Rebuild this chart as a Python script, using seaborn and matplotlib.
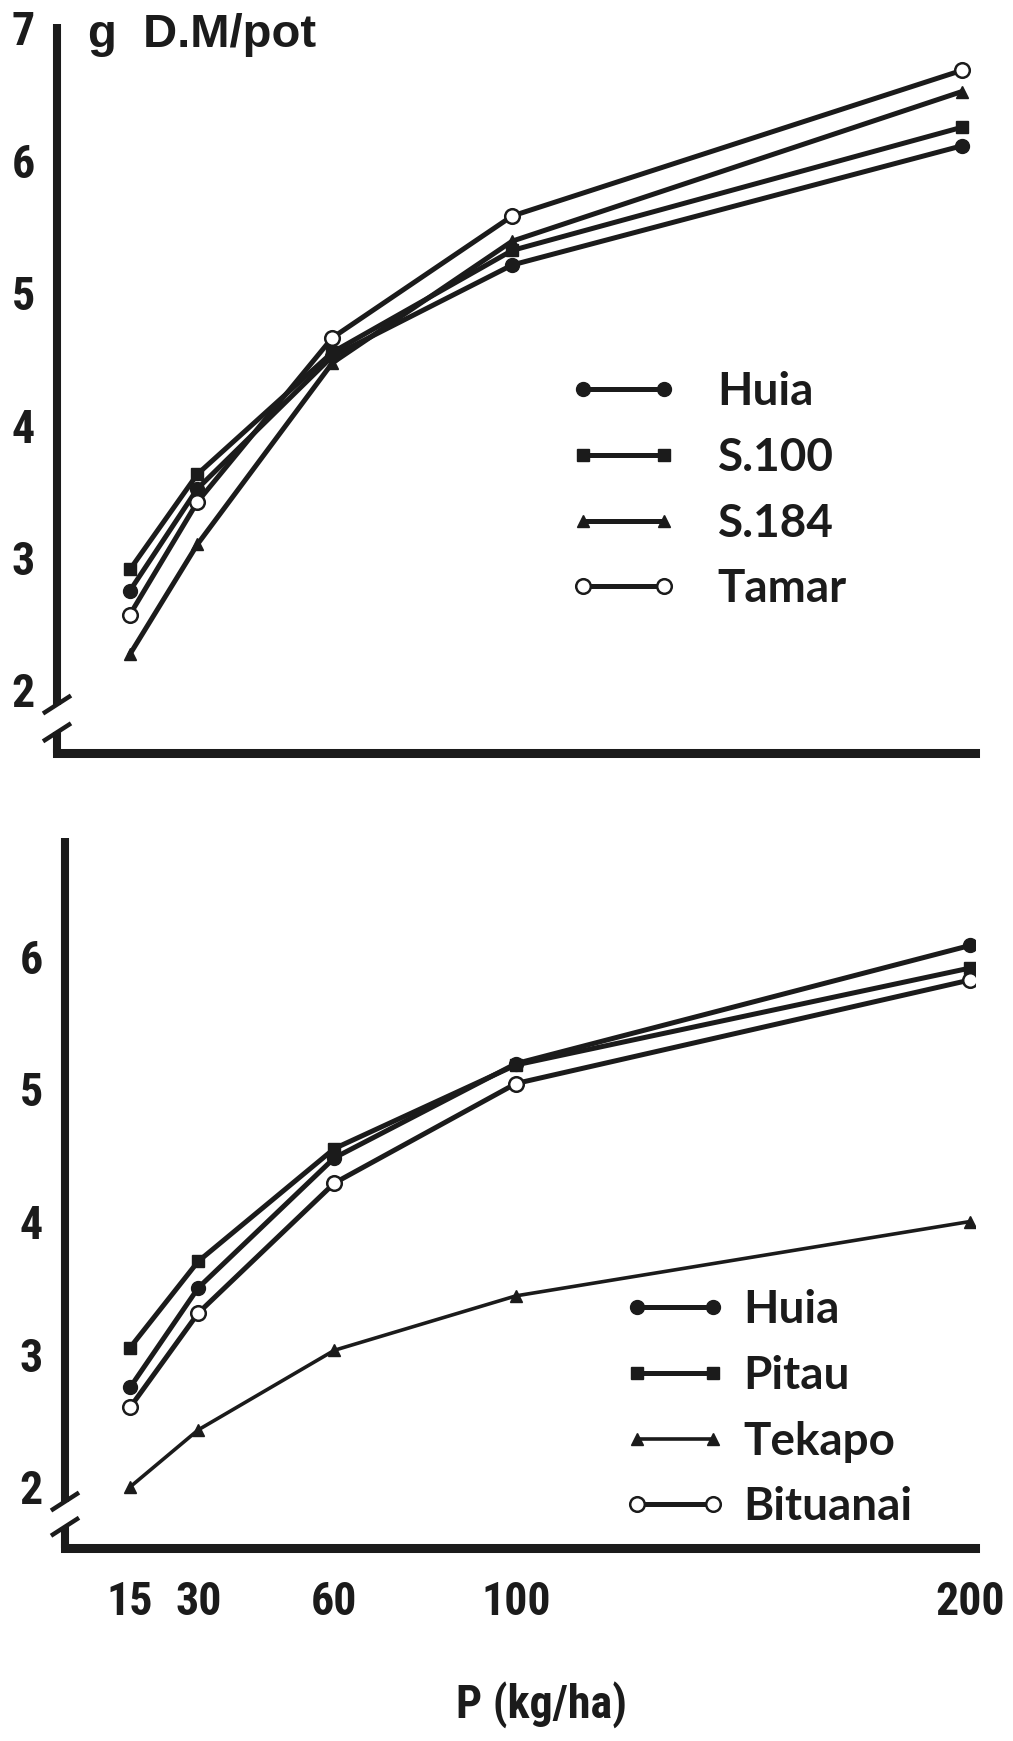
import matplotlib
matplotlib.use("Agg")
import matplotlib.pyplot as plt
import seaborn as sns
from matplotlib import font_manager as fm

# P application rates (kg/ha)
p_rates = [15, 30, 60, 100, 200]

# Upper panel: dry matter yield (g D.M/pot)
huia_top = [2.75, 3.52, 4.52, 5.21, 6.11]
s100 = [2.91, 3.63, 4.55, 5.32, 6.25]
s184 = [2.27, 3.10, 4.47, 5.39, 6.52]
tamar = [2.57, 3.42, 4.66, 5.58, 6.68]

# Lower panel
huia_bot = [2.75, 3.50, 4.48, 5.19, 6.08]
pitau = [3.05, 3.70, 4.55, 5.18, 5.91]
tekapo = [2.00, 2.43, 3.03, 3.44, 4.00]
bituanai = [2.60, 3.31, 4.29, 5.04, 5.82]

top_names = ["Huia", "S.100", "S.184", "Tamar"]
bot_names = ["Huia", "Pitau", "Tekapo", "Bituanai"]
y_ticks_top = [2, 3, 4, 5, 6, 7]
y_ticks_bot = [2, 3, 4, 5, 6]
x_tick_labels = ["15", "30", "60", "100", "200"]

INK = "#1b1b1b"

sns.set_style("white")
avail = {f.name for f in fm.fontManager.ttflist}
if "Liberation Sans Narrow" in avail:
    tick_font = fm.FontProperties(family="Liberation Sans Narrow", weight="bold", size=33)
elif "Roboto Condensed" in avail:
    tick_font = fm.FontProperties(family="Roboto Condensed", weight="bold", size=33)
else:
    tick_font = fm.FontProperties(family="DejaVu Sans", stretch="condensed", weight="bold", size=32)
legend_font = fm.FontProperties(family="Lato", weight="bold", size=33)
title_font = fm.FontProperties(family="Liberation Sans", weight="bold", size=34)

W, H = 1013, 1741
fig = plt.figure(figsize=(W / 100, H / 100), dpi=100, facecolor="white")


def px_axes(left, top, right, bottom):
    return fig.add_axes([left / W, 1 - bottom / H, (right - left) / W, (bottom - top) / H])


ax1 = px_axes(57, 24, 975, 753)
ax2 = px_axes(65, 838, 975, 1548)

styles = {
    "circle": dict(marker="o", markersize=10, markerfacecolor=INK, markeredgewidth=1.0),
    "square": dict(marker="s", markersize=8.5, markerfacecolor=INK, markeredgewidth=1.0),
    "triangle": dict(marker="^", markersize=9, markerfacecolor=INK, markeredgewidth=1.0),
    "open": dict(marker="o", markersize=10.5, markerfacecolor="white", markeredgewidth=1.8),
}


def draw_series(ax, name, values, style, lw=3.6):
    sns.lineplot(x=p_rates, y=values, ax=ax, color=INK, linewidth=lw,
                 markeredgecolor=INK, label=name, legend=False, **styles[style])
    line = ax.lines[-1]
    st = styles[style]
    line.set_markerfacecolor(st["markerfacecolor"])
    line.set_markeredgecolor(INK)
    line.set_markeredgewidth(st["markeredgewidth"])
    line.set_solid_joinstyle("round")
    return line


h_top = [
    draw_series(ax1, "Huia", huia_top, "circle"),
    draw_series(ax1, "S.100", s100, "square"),
    draw_series(ax1, "S.184", s184, "triangle"),
    draw_series(ax1, "Tamar", tamar, "open"),
]
h_bot = [
    draw_series(ax2, "Huia", huia_bot, "circle"),
    draw_series(ax2, "Pitau", pitau, "square"),
    draw_series(ax2, "Tekapo", tekapo, "triangle", lw=2.6),
    draw_series(ax2, "Bituanai", bituanai, "open"),
]


def style_axes(ax, xlim, ylim, yticks, break_hi, break_lo, show_xlabels):
    ax.set_xlim(*xlim)
    ax.set_ylim(*ylim)
    ax.set_facecolor("white")
    for s in ["top", "right"]:
        ax.spines[s].set_visible(False)
    ax.spines["left"].set_linewidth(5.8)
    ax.spines["bottom"].set_linewidth(6.5)
    ax.spines["left"].set_color(INK)
    ax.spines["bottom"].set_color(INK)
    ax.spines["left"].set_bounds(break_hi, ylim[1])
    ax.spines["left"].set_capstyle("butt")
    ax.set_xticks(p_rates)
    ax.set_yticks(yticks)
    ax.tick_params(axis="both", which="major", direction="out", color=INK,
                   width=8.5, length=10)
    ax.tick_params(axis="y", pad=6)
    ax.tick_params(axis="x", pad=13)
    ax.set_yticklabels([str(t) for t in yticks], fontproperties=tick_font, color=INK)
    if show_xlabels:
        ax.set_xticklabels(x_tick_labels, fontproperties=tick_font, color=INK)
    else:
        ax.set_xticklabels([])
    ax.set_xlabel("")
    ax.set_ylabel("")
    trans = ax.get_yaxis_transform()
    # short piece of the y axis below the break
    ax.plot([0, 0], [ylim[0], break_lo], transform=trans, color=INK, lw=5.8,
            solid_capstyle="butt", clip_on=False)
    # break marks
    dx = 14 / ax.bbox.width
    dy = 9 * (ylim[1] - ylim[0]) / ax.bbox.height
    for yb in (break_hi, break_lo):
        ax.plot([-dx, dx], [yb - dy, yb + dy], transform=trans, color=INK, lw=3.2,
                solid_capstyle="butt", clip_on=False)


style_axes(ax1, (-1.22, 202.9), (1.524, 7.03), y_ticks_top, 1.89, 1.68, False)
style_axes(ax2, (0.66, 201.1), (1.54, 6.89), y_ticks_bot, 1.89, 1.70, True)

ax1.text((88 - 57) / (975 - 57), (753 - 47) / (753 - 24), "g  D.M/pot",
         transform=ax1.transAxes, fontproperties=title_font, color=INK,
         ha="left", va="baseline")

ax2.set_xlabel("P (kg/ha)", fontproperties=tick_font, color=INK)
ax2.xaxis.set_label_coords((541 - 65) / (975 - 65), -(1705 - 1548) / (1548 - 838))
ax2.xaxis.label.set_va("center")

leg_kw = dict(numpoints=2, frameon=False, prop=legend_font, labelspacing=0.52,
              borderpad=0, borderaxespad=0, loc="upper left",
              bbox_transform=fig.transFigure, labelcolor=INK)
ax1.legend(h_top, top_names, bbox_to_anchor=(569 / W, 1 - 371 / H),
           handlelength=2.37, handletextpad=0.87, **leg_kw)
ax2.legend(h_bot, bot_names, bbox_to_anchor=(623 / W, 1 - 1289 / H),
           handlelength=2.26, handletextpad=0.36, **leg_kw)

fig.savefig("out.png", dpi=100, facecolor="white")
